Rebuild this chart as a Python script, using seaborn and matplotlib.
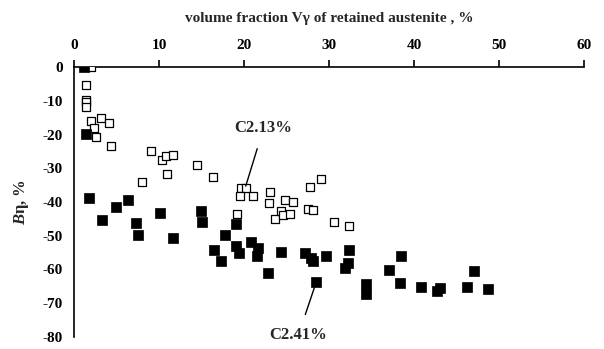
import matplotlib
matplotlib.use("Agg")
import matplotlib.pyplot as plt
import seaborn as sns
import pandas as pd

# C2.13% (open squares)
c213_x = [2.0, 1.4, 1.4, 1.4, 1.4, 2.0, 3.2, 4.1, 2.3, 2.6, 4.4, 9.0, 10.3, 10.8, 11.6,
          10.9, 8.0, 14.5, 16.4, 19.2, 19.6, 20.2, 19.5, 21.1, 23.0, 22.9, 23.6, 24.8,
          25.8, 24.4, 24.6, 25.4, 27.8, 29.1, 27.5, 28.1, 30.6, 32.3]
c213_y = [0, -5.3, -9.8, -10.5, -11.8, -16.0, -15.1, -16.6, -18.0, -20.7, -23.4, -24.9,
          -27.6, -26.4, -26.1, -31.7, -34.1, -29.0, -32.6, -43.6, -35.9, -35.9, -38.2,
          -38.2, -37.0, -40.3, -45.0, -39.4, -39.9, -42.6, -43.8, -43.6, -35.5, -33.2,
          -42.2, -42.4, -46.0, -47.1]
# C2.41% (filled squares)
c241_x = [1.2, 1.4, 1.75, 3.3, 4.9, 6.4, 7.3, 7.5, 10.1, 11.6, 14.9, 15.0, 17.8, 19.0,
          16.5, 17.3, 19.0, 19.4, 20.8, 21.6, 21.5, 22.8, 24.4, 27.2, 27.9, 28.1, 29.6,
          32.4, 32.2, 31.9, 28.5, 34.3, 34.4, 37.1, 38.5, 38.3, 47.0, 40.8, 43.0, 42.7,
          46.2, 48.7]
c241_y = [0, -19.9, -38.8, -45.3, -41.4, -39.4, -46.2, -49.8, -43.3, -50.7, -42.6, -46.0,
          -49.8, -46.6, -54.2, -57.4, -53.0, -55.2, -51.9, -53.6, -56.0, -61.1, -54.8,
          -55.2, -56.5, -57.4, -56.0, -54.2, -58.0, -59.6, -63.7, -64.3, -67.3, -60.1,
          -56.0, -63.9, -60.4, -65.1, -65.6, -66.3, -65.1, -65.7]

x_ticks = [0, 10, 20, 30, 40, 50, 60]
y_ticks = [0, -10, -20, -30, -40, -50, -60, -70, -80]

sns.set_style("white")
plt.rcParams['font.family'] = ['Liberation Serif', 'DejaVu Serif']
plt.rcParams['font.weight'] = 'bold'
plt.rcParams['axes.unicode_minus'] = False
plt.rcParams['mathtext.fontset'] = 'custom'
plt.rcParams['mathtext.rm'] = 'Liberation Serif:bold'
plt.rcParams['mathtext.bf'] = 'Liberation Serif:bold'
plt.rcParams['mathtext.it'] = 'Liberation Serif:bold:italic'

fig = plt.figure(figsize=(6.04, 3.49), dpi=100)
ax = fig.add_axes([0.1225, 0.0344, 0.8445, 0.7736])

df1 = pd.DataFrame({"x": c213_x, "y": c213_y})
df2 = pd.DataFrame({"x": c241_x, "y": c241_y})
sns.scatterplot(data=df1, x="x", y="y", ax=ax, marker="s", s=36, facecolor="white",
                edgecolor="black", linewidth=0.9, zorder=3, legend=False)
sns.scatterplot(data=df2, x="x", y="y", ax=ax, marker="s", s=48, color="black",
                edgecolor="black", linewidth=0.5, zorder=4, legend=False)

ax.set_xlim(0, 60)
ax.set_ylim(-80, 0)
ax.set_xticks(x_ticks)
ax.set_yticks(y_ticks)
ax.xaxis.tick_top()
ax.xaxis.set_label_position("top")
ax.tick_params(axis="both", direction="out", length=5, width=1.2, labelsize=11,
               colors="black", pad=3)
ax.tick_params(axis="x", pad=6)
for lab in ax.get_xticklabels() + ax.get_yticklabels():
    lab.set_fontweight("bold")
ax.spines["bottom"].set_visible(False)
ax.spines["right"].set_visible(False)
for s in ["top", "left"]:
    ax.spines[s].set_color("black")
    ax.spines[s].set_linewidth(1.2)
ax.spines["left"].set_zorder(5)
ax.spines["top"].set_zorder(2)

ax.set_xlabel("volume fraction V\u03b3 of retained austenite , %", fontsize=11,
              fontweight="bold", labelpad=12)
ax.set_ylabel("")
fig.text(0.036, 0.42, "$\\mathit{B}$\u03b7, %", rotation=90, fontsize=12,
         fontweight="bold", ha="center", va="center")

ax.annotate("C2.13%", xy=(20.2, -35.3), xytext=(22.3, -18.1), fontsize=12,
            fontweight="bold", ha="center", va="center",
            arrowprops=dict(arrowstyle="-", color="black", lw=1.0, shrinkA=7, shrinkB=0))
ax.annotate("C2.41%", xy=(28.5, -63.7), xytext=(26.4, -79.4), fontsize=12,
            fontweight="bold", ha="center", va="center", annotation_clip=False,
            arrowprops=dict(arrowstyle="-", color="black", lw=1.0, shrinkA=7, shrinkB=0))

fig.savefig("out.png", dpi=100)
